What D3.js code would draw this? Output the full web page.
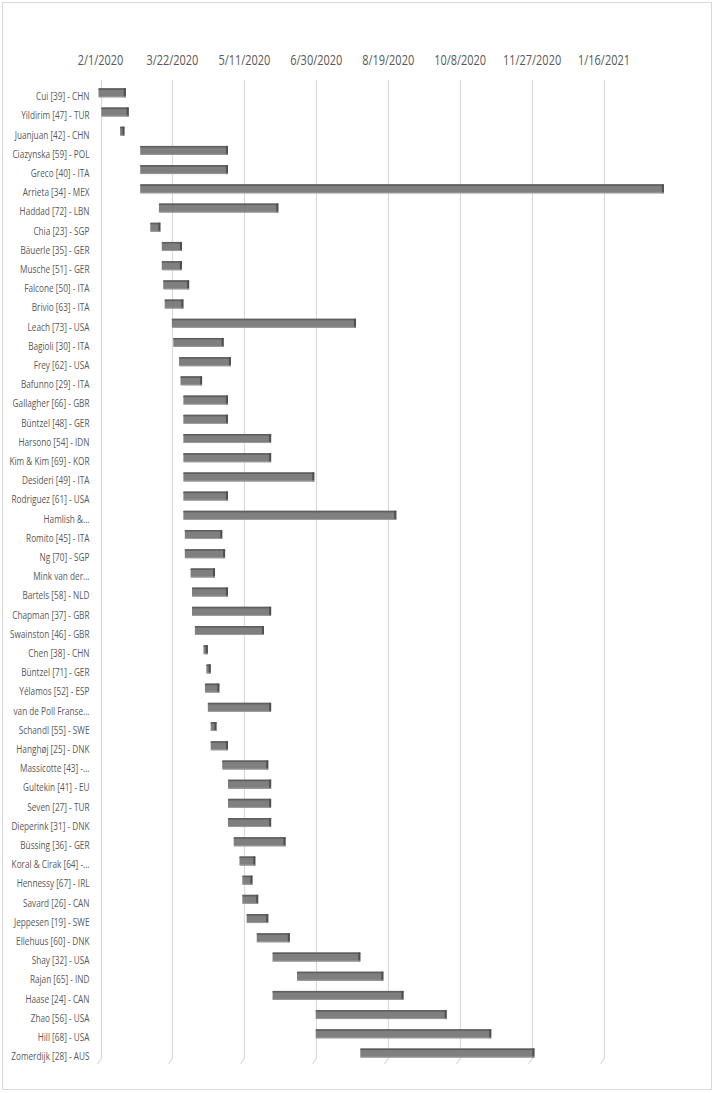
<!DOCTYPE html>
<html>
<head>
<meta charset="utf-8">
<script src="https://cdn.jsdelivr.net/npm/d3@7"></script>
<style>
  html, body { margin: 0; padding: 0; background: #ffffff; }
  svg { display: block; }
</style>
</head>
<body>
<svg id="chart" width="714" height="1093"></svg>
<script>
const studies = [
  "Cui [39] - CHN", "Yildirim [47] - TUR", "Juanjuan [42] - CHN", "Ciazynska [59] - POL",
  "Greco [40] - ITA", "Arrieta [34] - MEX", "Haddad [72] - LBN", "Chia [23] - SGP",
  "Bäuerle [35] - GER", "Musche [51] - GER", "Falcone [50] - ITA", "Brivio [63] - ITA",
  "Leach [73] - USA", "Bagioli [30] - ITA", "Frey [62] - USA", "Bafunno [29] - ITA",
  "Gallagher [66] - GBR", "Büntzel [48] - GER", "Harsono [54] - IDN", "Kim & Kim [69] - KOR",
  "Desideri [49] - ITA", "Rodriguez [61] - USA", "Hamlish &...", "Romito [45] - ITA",
  "Ng [70] - SGP", "Mink van der...", "Bartels [58] - NLD", "Chapman [37] - GBR",
  "Swainston [46] - GBR", "Chen [38] - CHN", "Büntzel [71] - GER", "Yélamos [52] - ESP",
  "van de Poll Franse...", "Schandl [55] - SWE", "Hanghøj [25] - DNK", "Massicotte [43] -...",
  "Gultekin [41] - EU", "Seven [27] - TUR", "Dieperink [31] - DNK", "Büssing [36] - GER",
  "Koral & Cirak [64] -...", "Hennessy [67] - IRL", "Savard [26] - CAN", "Jeppesen [19] - SWE",
  "Ellehuus [60] - DNK", "Shay [32] - USA", "Rajan [65] - IND", "Haase [24] - CAN",
  "Zhao [56] - USA", "Hill [68] - USA", "Zomerdijk [28] - AUS"
];

const startDates = [
  "2020-02-01", "2020-02-03", "2020-02-16", "2020-03-01",
  "2020-03-01", "2020-03-01", "2020-03-14", "2020-03-08",
  "2020-03-16", "2020-03-16", "2020-03-17", "2020-03-18",
  "2020-03-23", "2020-03-24", "2020-03-28", "2020-03-29",
  "2020-03-31", "2020-03-31", "2020-03-31", "2020-03-31",
  "2020-03-31", "2020-03-31", "2020-03-31", "2020-04-01",
  "2020-04-01", "2020-04-05", "2020-04-06", "2020-04-06",
  "2020-04-08", "2020-04-14", "2020-04-16", "2020-04-15",
  "2020-04-17", "2020-04-19", "2020-04-19", "2020-04-27",
  "2020-05-01", "2020-05-01", "2020-05-01", "2020-05-05",
  "2020-05-09", "2020-05-11", "2020-05-11", "2020-05-14",
  "2020-05-21", "2020-06-01", "2020-06-18", "2020-06-01",
  "2020-07-01", "2020-07-01", "2020-08-01"
];

const endDates = [
  "2020-02-20", "2020-02-22", "2020-02-19", "2020-05-01",
  "2020-05-01", "2021-02-28", "2020-06-05", "2020-03-15",
  "2020-03-30", "2020-03-30", "2020-04-04", "2020-03-31",
  "2020-07-29", "2020-04-28", "2020-05-03", "2020-04-13",
  "2020-05-01", "2020-05-01", "2020-05-31", "2020-05-31",
  "2020-06-30", "2020-05-01", "2020-08-26", "2020-04-27",
  "2020-04-29", "2020-04-22", "2020-05-01", "2020-05-31",
  "2020-05-26", "2020-04-17", "2020-04-19", "2020-04-25",
  "2020-05-31", "2020-04-23", "2020-05-01", "2020-05-29",
  "2020-05-31", "2020-05-31", "2020-05-31", "2020-06-10",
  "2020-05-20", "2020-05-18", "2020-05-22", "2020-05-29",
  "2020-06-13", "2020-08-01", "2020-08-17", "2020-08-31",
  "2020-09-30", "2020-10-31", "2020-11-30"
];

const tickDates = [
  "2020-02-01", "2020-03-22", "2020-05-11", "2020-06-30",
  "2020-08-19", "2020-10-08", "2020-11-27", "2021-01-16"
];

const parse = d3.utcParse("%Y-%m-%d");
const fmt = d3.utcFormat("%-m/%-d/%Y");

const data = studies.map((s, i) => ({ name: s, start: parse(startDates[i]), end: parse(endDates[i]) }));
const ticks = tickDates.map(parse);

const svg = d3.select("#chart");
const FONT = "'Liberation Sans Narrow', 'Open Sans', 'DejaVu Sans Condensed', sans-serif";

// chart border
svg.append("rect")
  .attr("x", 2.5).attr("y", 2.5).attr("width", 709).attr("height", 1087)
  .attr("fill", "#ffffff").attr("stroke", "#d9d9d9").attr("stroke-width", 1);

const x = d3.scaleUtc().domain([ticks[0], ticks[ticks.length - 1]]).range([100.5, 604]);
const y = d3.scalePoint().domain(studies).range([92.8, 1053]);

const gridTop = 80, gridBottom = 1058;
const depthX = -4, depthY = 6;

// gridlines (back wall) with 3D floor slant
const grid = svg.append("g");
ticks.forEach(t => {
  const gx = Math.round(x(t)) + 0.5;
  grid.append("path")
    .attr("d", `M${gx},${gridTop}V${gridBottom}l${depthX},${depthY}`)
    .attr("fill", "none")
    .attr("stroke", "#d9d9d9")
    .attr("stroke-width", 1.2);
});

// helper to measure text width
function measure(str, size) {
  const t = svg.append("text").attr("font-family", FONT).attr("font-size", size).text(str);
  const w = t.node().getComputedTextLength();
  t.remove();
  return w;
}

// tick labels (condensed horizontally like the reference)
const tickSize = 15;
const tickSx = 52 / measure("3/22/2020", tickSize);
svg.append("g").selectAll("text")
  .data(ticks)
  .join("text")
  .attr("transform", d => `translate(${x(d)},65) scale(${tickSx},1)`)
  .attr("text-anchor", "middle")
  .attr("font-family", FONT)
  .attr("font-size", tickSize)
  .attr("fill", "#595959")
  .text(d => fmt(d));

// category labels
const labSize = 11;
const labSx = 53.6 / measure("Cui [39] - CHN", labSize);
svg.append("g").selectAll("text")
  .data(data)
  .join("text")
  .attr("transform", d => `translate(89.5,${y(d.name) + 7.3}) scale(${labSx},1)`)
  .attr("text-anchor", "end")
  .attr("font-family", FONT)
  .attr("font-size", labSize)
  .attr("fill", "#595959")
  .text(d => d.name);

// bars (3D look)
const barH = 9, off = -2;
const bars = svg.append("g").selectAll("g")
  .data(data)
  .join("g")
  .attr("transform", d => `translate(0,${y(d.name) - barH / 2})`);

bars.append("rect")
  .attr("x", d => x(d.start) + off)
  .attr("y", 0)
  .attr("width", d => Math.max(2, x(d.end) - x(d.start)))
  .attr("height", barH)
  .attr("rx", 1)
  .attr("fill", "#7f7f7f");

bars.append("rect")
  .attr("x", d => x(d.start) + off)
  .attr("y", 0)
  .attr("width", d => Math.max(2, x(d.end) - x(d.start)))
  .attr("height", 1.6)
  .attr("fill", "#5e5e5e");

bars.append("rect")
  .attr("x", d => x(d.end) + off - 2)
  .attr("y", 0)
  .attr("width", 2)
  .attr("height", barH)
  .attr("fill", "#4f4f4f");

bars.append("rect")
  .attr("x", d => x(d.start) + off)
  .attr("y", barH - 1)
  .attr("width", d => Math.max(2, x(d.end) - x(d.start)))
  .attr("height", 1)
  .attr("fill", "#9a9a9a");
</script>
</body>
</html>
